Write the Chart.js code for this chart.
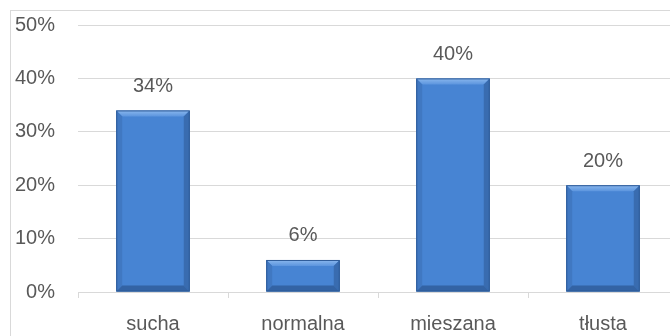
<!DOCTYPE html>
<html>
<head>
<meta charset="utf-8">
<script src="https://cdn.jsdelivr.net/npm/chart.js@4/dist/chart.umd.min.js"></script>
<style>
  html, body { margin: 0; padding: 0; background: #fff; overflow: hidden; }
  body { width: 670px; height: 336px; position: relative; }
  #frame { position: absolute; left: 10px; top: 10px; width: 700px; height: 400px;
           border-left: 1px solid #d9d9d9; border-top: 1px solid #d9d9d9; }
  #skinChart { position: absolute; left: 11px; top: 11px; }
</style>
</head>
<body>
<div id="frame"></div>
<canvas id="skinChart" width="667" height="326"></canvas>
<script>
// Skin types and their share (%)
const categories = ['sucha', 'normalna', 'mieszana', 'tłusta'];
const shares = [34, 6, 40, 20];
const yTicks = [0, 10, 20, 30, 40, 50];

const textColor = '#595959';
const fontFamily = "'Liberation Sans', Arial, sans-serif";

// value labels above each bar
const valueLabels = {
    id: 'valueLabels',
    afterDatasetsDraw(chart) {
        const ctx = chart.ctx;
        const meta = chart.getDatasetMeta(0);
        ctx.save();
        ctx.fillStyle = textColor;
        ctx.font = '20px ' + fontFamily;
        ctx.textAlign = 'center';
        ctx.textBaseline = 'middle';
        meta.data.forEach((bar, i) => {
            ctx.fillText(shares[i] + '%', bar.x, bar.y - 24);
        });
        ctx.restore();
    }
};

// bevelled look of the bars
const bevel = {
    id: 'bevel',
    afterDatasetDraw(chart) {
        const ctx = chart.ctx;
        const meta = chart.getDatasetMeta(0);
        ctx.save();
        meta.data.forEach(bar => {
            const l = bar.x - bar.width / 2, r = bar.x + bar.width / 2;
            const t = bar.y, b = bar.base;
            const d = Math.min(6, (b - t) / 2);
            // top highlight
            const g = ctx.createLinearGradient(0, t, 0, t + d);
            g.addColorStop(0, '#8bb8ee');
            g.addColorStop(1, '#5c95de');
            ctx.fillStyle = g;
            ctx.beginPath();
            ctx.moveTo(l, t); ctx.lineTo(r, t); ctx.lineTo(r - d, t + d); ctx.lineTo(l + d, t + d);
            ctx.closePath(); ctx.fill();
            // left side
            ctx.fillStyle = '#4078c2';
            ctx.beginPath();
            ctx.moveTo(l, t); ctx.lineTo(l + d, t + d); ctx.lineTo(l + d, b - d); ctx.lineTo(l, b);
            ctx.closePath(); ctx.fill();
            // right side
            ctx.fillStyle = '#396cb0';
            ctx.beginPath();
            ctx.moveTo(r, t); ctx.lineTo(r - d, t + d); ctx.lineTo(r - d, b - d); ctx.lineTo(r, b);
            ctx.closePath(); ctx.fill();
            // bottom
            ctx.fillStyle = '#3363a4';
            ctx.beginPath();
            ctx.moveTo(l, b); ctx.lineTo(l + d, b - d); ctx.lineTo(r - d, b - d); ctx.lineTo(r, b);
            ctx.closePath(); ctx.fill();
            ctx.strokeStyle = '#2d5a96';
            ctx.lineWidth = 1;
            ctx.strokeRect(l + 0.5, t + 0.5, r - l - 1, b - t - 1);
        });
        ctx.restore();
    }
};

const ctx = document.getElementById('skinChart').getContext('2d');
new Chart(ctx, {
    type: 'bar',
    data: {
        labels: categories,
        datasets: [{
            data: shares,
            backgroundColor: '#4784d3',
            borderWidth: 0,
            categoryPercentage: 1,
            barPercentage: 0.49
        }]
    },
    options: {
        responsive: false,
        animation: false,
        devicePixelRatio: 1,
        layout: { padding: { top: 14, right: 0, bottom: 0, left: 0 } },
        plugins: {
            legend: { display: false },
            tooltip: { enabled: false }
        },
        scales: {
            x: {
                grid: { drawOnChartArea: false, drawTicks: true, tickLength: 6, color: '#d9d9d9', lineWidth: 1 },
                border: { display: true, color: '#d9d9d9', width: 1 },
                ticks: { color: textColor, font: { family: fontFamily, size: 20 }, padding: 14 },
                afterFit(scale) { scale.height = 45; scale.paddingLeft = 0; scale.paddingRight = 0; }
            },
            y: {
                min: 0,
                max: 50,
                afterBuildTicks(scale) { scale.ticks = yTicks.map(v => ({ value: v })); },
                grid: { drawTicks: false, color: '#d9d9d9', lineWidth: 1 },
                border: { display: false },
                ticks: {
                    color: textColor,
                    font: { family: fontFamily, size: 20 },
                    padding: 23,
                    callback: v => v + '%'
                },
                afterFit(scale) { scale.width = 67; scale.paddingTop = 0; scale.paddingBottom = 0; }
            }
        }
    },
    plugins: [bevel, valueLabels]
});
</script>
</body>
</html>
